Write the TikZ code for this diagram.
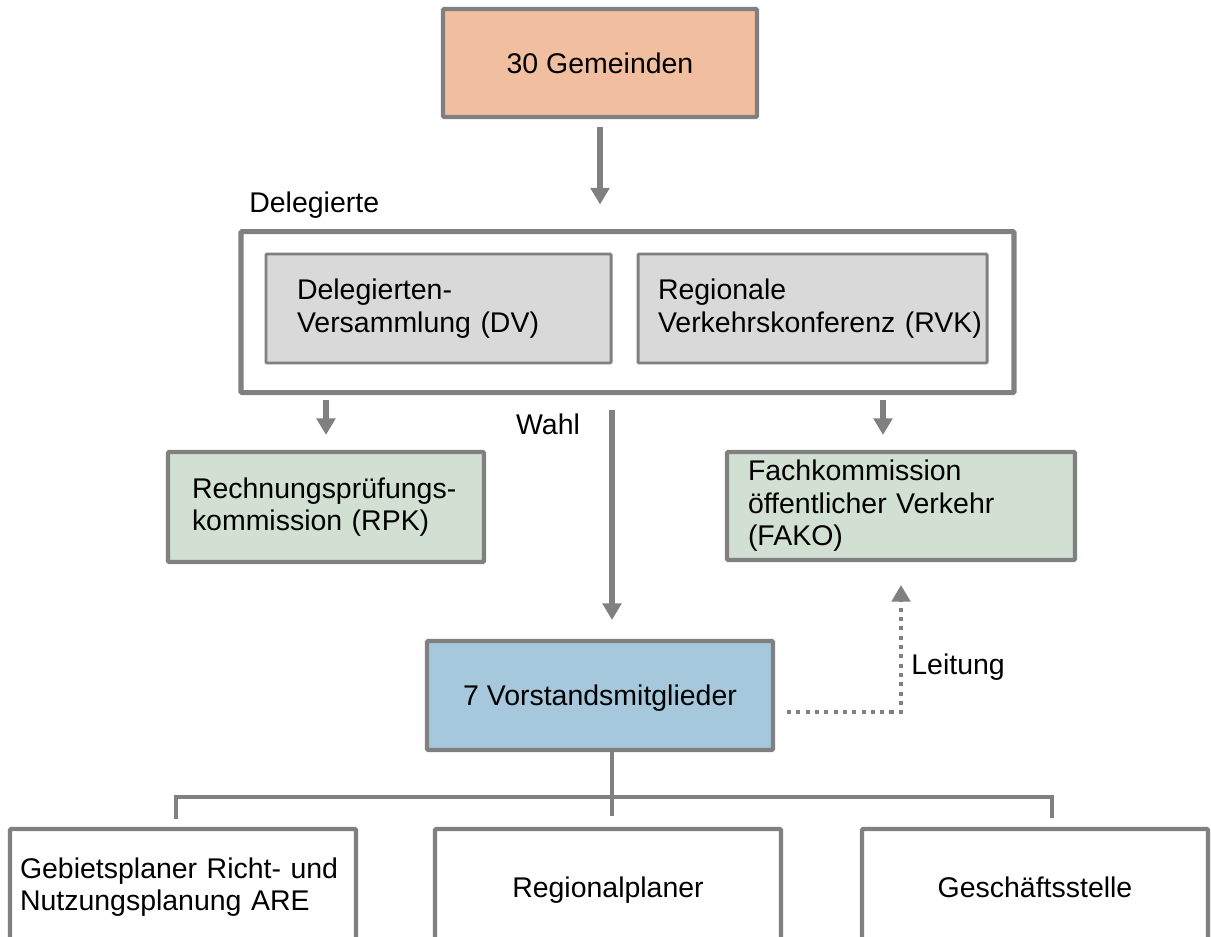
\documentclass[tikz,border=0pt]{standalone}
\usepackage{fontspec}
\setmainfont{Liberation Sans}
\usepackage{xcolor}
\usetikzlibrary{shapes,arrows.meta,positioning}

\definecolor{linegray}{RGB}{128,128,128}
\definecolor{gemfill}{RGB}{241,191,160}
\definecolor{dvfill}{RGB}{217,217,217}
\definecolor{komfill}{RGB}{209,224,211}
\definecolor{vorfill}{RGB}{165,200,220}

\begin{document}
\begin{tikzpicture}[
  >={Triangle[width=10.5pt,length=9.5pt]},
  font=\fontsize{16.2}{18.5}\selectfont,
  unit/.style={rectangle, rounded corners=0.6pt, draw=linegray, line width=2.3pt,
               minimum width=6.92cm, minimum height=2.18cm, inner sep=0pt, text centered},
  inner/.style={unit, line width=1.7pt, fill=dvfill, align=left},
  frame/.style={rectangle, rounded corners=0.6pt, draw=linegray, line width=2.9pt,
                minimum width=15.46cm, minimum height=3.22cm},
  flow/.style={->, draw=linegray, line width=3.2pt},
  lead/.style={->, draw=linegray, line width=2.3pt, dash pattern=on 2.3pt off 3pt},
  tie/.style={draw=linegray, line width=2.3pt},
  tag/.style={inner sep=0pt}
]
\useasboundingbox (0,0) rectangle (24.22,-18.74);
\clip (0,0) rectangle (24.22,-18.74);

% --- Boxes ---
\node[unit, fill=gemfill, minimum width=6.28cm, minimum height=2.16cm] (GEM) at (12,-1.26) {30 Gemeinden};
\node[frame, below=2.2cm of GEM, xshift=0.55cm]                         (DEL) {};
\node[inner, minimum width=6.9cm, text width=5.66cm]  (DV)  at (8.77,-6.17)  {Delegierten-\\Versammlung (DV)};
\node[inner, minimum width=6.98cm, text width=6.18cm] (RVK) at (16.25,-6.17) {Regionale\\Verkehrskonferenz~(RVK)};

\node[unit, fill=komfill, align=left, minimum width=6.32cm, minimum height=2.2cm, text width=5.36cm]
  (RPK) at (6.52,-10.14) {Rechnungsprüfungs-\\kommission (RPK)};
\node[unit, fill=komfill, align=left, minimum width=6.96cm, minimum height=2.16cm, text width=6.12cm]
  (FAKO) at (18.02,-10.12) {Fachkommission\\öffentlicher Verkehr\\(FAKO)};

\node[unit, fill=vorfill, text depth=0pt] (VOR) at (12,-13.91) {7 Vorstandsmitglieder};

\node[unit, minimum height=2.32cm, align=left, text width=6.52cm]
  (ARE) at (3.66,-17.74) {Gebietsplaner Richt- und\\Nutzungsplanung ARE};
\node[unit, minimum height=2.32cm, text depth=0pt] (RP) at (12.16,-17.74) {Regionalplaner};
\node[unit, minimum height=2.32cm] (GS) at (20.70,-17.74) {Geschäftsstelle};

% --- Labels ---
\node[tag, anchor=base west] (DELTAG) at (4.98,-4.26)  {Delegierte};
\node[tag, anchor=base]      (WAHL)   at (10.96,-8.68) {Wahl};
\node[tag, anchor=base west] (LEIT)   at (18.22,-13.48) {Leitung};

% --- Connections ---
\draw[flow, shorten <=0.16cm, shorten >=0.49cm] (GEM.south) -- (GEM.south |- DEL.north);
\draw[flow, shorten <=0.09cm, shorten >=0.3cm] (DEL.south -| RPK.north) -- (RPK.north);
\draw[flow, shorten <=0.09cm, shorten >=0.3cm] ([xshift=-0.36cm]FAKO.north |- DEL.south) -- ([xshift=-0.36cm]FAKO.north);
\draw[flow, shorten <=0.29cm, shorten >=0.38cm] ([xshift=0.24cm]VOR.north |- DEL.south) -- ([xshift=0.24cm]VOR.north);

\draw[lead, shorten >=0.46cm] ([shift={(0.24,-0.33)}]VOR.east) -| (FAKO.south);

% --- Tree ---
\coordinate (BUS) at ([yshift=-0.9cm]VOR.south);
\draw[tie] ([xshift=0.24cm]VOR.south) -- ([xshift=0.24cm, yshift=0.22cm]VOR.south |- RP.north);
\draw[tie] ([xshift=-0.14cm, yshift=0.16cm]ARE.north) |- (BUS) -| ([xshift=0.34cm, yshift=0.18cm]GS.north);

\end{tikzpicture}
\end{document}
